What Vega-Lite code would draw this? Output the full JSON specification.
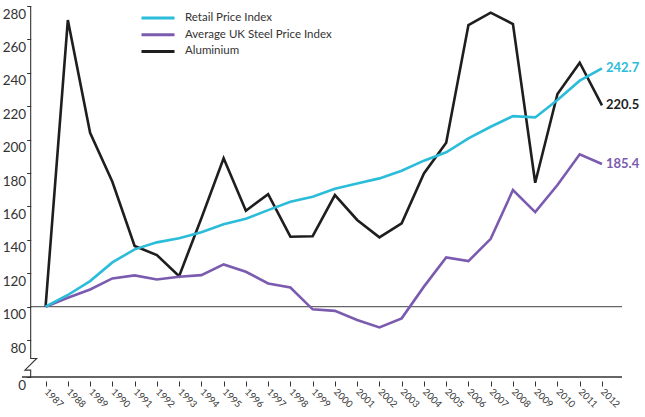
{
  "$schema": "https://vega.github.io/schema/vega-lite/v6.json",
  "width": 600,
  "height": 371,
  "autosize": {"type": "none"},
  "padding": {"left": 22, "top": 6, "right": 23, "bottom": 40},
  "background": "white",
  "config": {
    "view": {"stroke": null},
    "font": "Lato",
    "axis": {"labelOverlap": false, "labelFlush": false, "labelBound": false, "title": null, "grid": false, "domain": false}
  },
  "datasets": {
    "prices": [
      {"year": 1987, "Retail Price Index": 100, "Average UK Steel Price Index": 100, "Aluminium": 100},
      {"year": 1988, "Retail Price Index": 107, "Average UK Steel Price Index": 105.3, "Aluminium": 271.6},
      {"year": 1989, "Retail Price Index": 115.3, "Average UK Steel Price Index": 110.3, "Aluminium": 204.1},
      {"year": 1990, "Retail Price Index": 126.5, "Average UK Steel Price Index": 116.9, "Aluminium": 174.8},
      {"year": 1991, "Retail Price Index": 134.3, "Average UK Steel Price Index": 118.7, "Aluminium": 136.3},
      {"year": 1992, "Retail Price Index": 138.5, "Average UK Steel Price Index": 116.3, "Aluminium": 130.9},
      {"year": 1993, "Retail Price Index": 140.9, "Average UK Steel Price Index": 117.9, "Aluminium": 118.3},
      {"year": 1994, "Retail Price Index": 144.5, "Average UK Steel Price Index": 118.9, "Aluminium": 152.9},
      {"year": 1995, "Retail Price Index": 149.3, "Average UK Steel Price Index": 125.3, "Aluminium": 188.8},
      {"year": 1996, "Retail Price Index": 152.6, "Average UK Steel Price Index": 120.9, "Aluminium": 157.4},
      {"year": 1997, "Retail Price Index": 157.8, "Average UK Steel Price Index": 113.9, "Aluminium": 167.4},
      {"year": 1998, "Retail Price Index": 162.8, "Average UK Steel Price Index": 111.5, "Aluminium": 141.9},
      {"year": 1999, "Retail Price Index": 165.8, "Average UK Steel Price Index": 98.4, "Aluminium": 142.2},
      {"year": 2000, "Retail Price Index": 170.6, "Average UK Steel Price Index": 97.5, "Aluminium": 166.8},
      {"year": 2001, "Retail Price Index": 173.8, "Average UK Steel Price Index": 92, "Aluminium": 151.9},
      {"year": 2002, "Retail Price Index": 176.8, "Average UK Steel Price Index": 87.6, "Aluminium": 141.5},
      {"year": 2003, "Retail Price Index": 181.4, "Average UK Steel Price Index": 93, "Aluminium": 149.9},
      {"year": 2004, "Retail Price Index": 187.4, "Average UK Steel Price Index": 112, "Aluminium": 179.8},
      {"year": 2005, "Retail Price Index": 192.4, "Average UK Steel Price Index": 129.5, "Aluminium": 198.1},
      {"year": 2006, "Retail Price Index": 200.8, "Average UK Steel Price Index": 127.3, "Aluminium": 268.6},
      {"year": 2007, "Retail Price Index": 207.7, "Average UK Steel Price Index": 140.6, "Aluminium": 276},
      {"year": 2008, "Retail Price Index": 214.1, "Average UK Steel Price Index": 169.8, "Aluminium": 269.2},
      {"year": 2009, "Retail Price Index": 213.3, "Average UK Steel Price Index": 156.6, "Aluminium": 174.2},
      {"year": 2010, "Retail Price Index": 223.7, "Average UK Steel Price Index": 172.8, "Aluminium": 227.3},
      {"year": 2011, "Retail Price Index": 235.3, "Average UK Steel Price Index": 191.2, "Aluminium": 246.1},
      {"year": 2012, "Retail Price Index": 242.7, "Average UK Steel Price Index": 185.4, "Aluminium": 220.5}
    ],
    "axisBreak": [
      {"i": 1, "bx": 1986.33, "by": 280},
      {"i": 2, "bx": 1986.33, "by": 69.0},
      {"i": 3, "bx": 1986.6, "by": 69.0},
      {"i": 4, "bx": 1986.07, "by": 62.0},
      {"i": 5, "bx": 1986.33, "by": 62.0},
      {"i": 6, "bx": 1986.33, "by": 57.9}
    ]
  },
  "layer": [
    {
      "data": {"values": [{}]},
      "mark": {"type": "rule", "color": "#666666", "strokeWidth": 1.3},
      "encoding": {
        "y": {"datum": 100, "type": "quantitative"},
        "x": {"datum": 1986.33, "type": "quantitative"},
        "x2": {"datum": 2012.9}
      }
    },
    {
      "data": {"values": [{}]},
      "mark": {"type": "rule", "color": "#333333", "strokeWidth": 1.3},
      "encoding": {
        "y": {"datum": 57.9, "type": "quantitative"}
      }
    },
    {
      "data": {"name": "axisBreak"},
      "mark": {"type": "line", "color": "#333333", "strokeWidth": 1.1},
      "encoding": {
        "x": {"field": "bx", "type": "quantitative"},
        "y": {"field": "by", "type": "quantitative"},
        "order": {"field": "i"}
      }
    },
    {
      "data": {"name": "prices"},
      "transform": [
        {"fold": ["Aluminium", "Average UK Steel Price Index", "Retail Price Index"], "as": ["series", "value"]}
      ],
      "mark": {"type": "line", "strokeWidth": 2.6},
      "encoding": {
        "x": {
          "field": "year", "type": "quantitative",
          "scale": {"domain": [1985.94, 2012.9], "nice": false, "zero": false},
          "axis": {
            "offset": 4, "tickCount": 60,
            "values": [1987,1988,1989,1990,1991,1992,1993,1994,1995,1996,1997,1998,1999,2000,2001,2002,2003,2004,2005,2006,2007,2008,2009,2010,2011,2012],
            "format": "d", "tickSize": 5, "tickColor": "#333333", "tickWidth": 1,
            "labelAngle": 45, "labelAlign": "left", "labelBaseline": "middle", "labelPadding": 4,
            "labelFontSize": 9.5, "labelColor": "#333333", "labelFont": "Lato"
          }
        },
        "y": {
          "field": "value", "type": "quantitative",
          "scale": {"domain": [57.9, 280], "nice": false, "zero": false},
          "axis": {
            "offset": -8.7, "tickCount": 60,
            "values": [57.9, 80, 100, 120, 140, 160, 180, 200, 220, 240, 260, 280],
            "labelExpr": "datum.value < 70 ? '0' : datum.label",
            "format": "d", "tickSize": 4, "tickColor": "#333333", "tickWidth": 1,
            "labelFontSize": 13.5, "labelColor": "#333333", "labelFont": "Lato",
            "labelPadding": 1, "labelOffset": 8
          }
        },
        "color": {
          "field": "series", "type": "nominal",
          "scale": {
            "domain": ["Retail Price Index", "Average UK Steel Price Index", "Aluminium"],
            "range": ["#2BBCD9", "#7B5BAF", "#1E1E1E"]
          },
          "legend": {
            "title": null, "orient": "none", "legendX": 118, "legendY": 5,
            "symbolType": "stroke", "symbolSize": 1089, "symbolStrokeWidth": 3,
            "clipHeight": 14, "rowPadding": 2.7, "labelOffset": 9, "padding": 0,
            "labelFontSize": 11.5, "labelColor": "#333333", "labelFont": "Lato"
          }
        }
      }
    },
    {
      "data": {"name": "prices"},
      "transform": [
        {"fold": ["Aluminium", "Average UK Steel Price Index", "Retail Price Index"], "as": ["series", "value"]},
        {"filter": "datum.year == 2012"}
      ],
      "mark": {"type": "text", "align": "left", "baseline": "middle", "dx": 4, "fontSize": 13, "fontWeight": "bold", "font": "Lato"},
      "encoding": {
        "x": {"field": "year", "type": "quantitative"},
        "y": {"field": "value", "type": "quantitative"},
        "text": {"field": "value", "type": "quantitative", "format": ".1f"},
        "color": {"field": "series", "type": "nominal", "legend": null}
      }
    }
  ]
}
